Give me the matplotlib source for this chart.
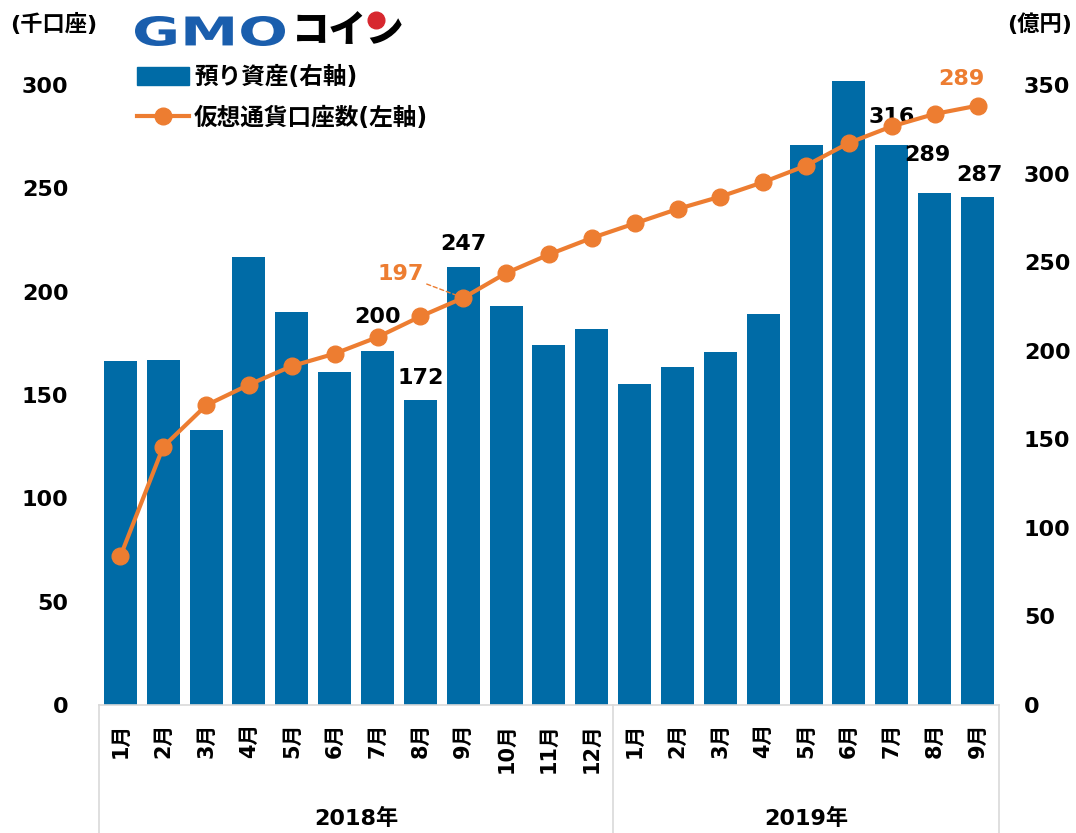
import matplotlib.pyplot as plt
from matplotlib.lines import Line2D
from matplotlib.textpath import TextPath
from matplotlib.patches import PathPatch
from matplotlib.font_manager import FontProperties
from matplotlib.transforms import Affine2D, IdentityTransform
import numpy as np

plt.rcParams['font.family'] = ['DejaVu Sans', 'Noto Sans CJK JP']
plt.rcParams['font.weight'] = 'bold'

months = ["1月", "2月", "3月", "4月", "5月", "6月", "7月", "8月", "9月", "10月", "11月", "12月",
          "1月", "2月", "3月", "4月", "5月", "6月", "7月", "8月", "9月"]
years = ["2018年", "2019年"]
year_len = [12, 9]
# 預り資産 (億円, right axis)
assets = [194, 195, 155, 253, 222, 188, 200, 172, 247, 225, 203, 212,
          181, 191, 199, 221, 316, 352, 316, 289, 287]
# 仮想通貨口座数 (千口座, left axis)
accounts = [72, 125, 145, 155, 164, 170, 178, 188, 197, 209, 218, 226,
            233, 240, 246, 253, 261, 272, 280, 286, 290]

BLUE = "#006BA6"
ORANGE = "#ED7D31"
GRAY = "#D9D9D9"

fig = plt.figure(figsize=(10.76, 8.33), dpi=100)
W, H = 1076, 833
ax_l = fig.add_axes([99 / W, 1 - 705 / H, 900 / W, 620 / H])
ax_r = ax_l.twinx()
ax_l.set_zorder(2)
ax_l.patch.set_visible(False)

x = np.arange(len(months))
ax_r.bar(x, assets, width=0.77, color=BLUE, clip_on=False, zorder=2)
ax_r.set_ylim(0, 350)
ax_r.set_yticks(range(0, 351, 50))

ax_l.plot(x, accounts, color=ORANGE, lw=3, marker="o", ms=12, clip_on=False, zorder=3)
ax_l.set_ylim(0, 300)
ax_l.set_yticks(range(0, 301, 50))
ax_l.set_xlim(-0.5, len(months) - 0.5)

for a in (ax_l, ax_r):
    for s in a.spines.values():
        s.set_visible(False)
    a.tick_params(length=0, labelsize=16)
    a.set_xticks([])
ax_l.tick_params(axis="y", pad=22)
ax_r.tick_params(axis="y", pad=18)

# category axis drawn by hand: baseline, group separators, labels
ax_l.axhline(0, color=GRAY, lw=1.2, clip_on=False)
trans = ax_l.get_xaxis_transform()
edges = np.concatenate([[0], np.cumsum(year_len)]) - 0.5
for e in edges:
    ax_l.plot([e, e], [0, -128 / 620], color=GRAY, lw=1.2, transform=trans, clip_on=False)
for i, m in enumerate(months):
    ax_l.text(i, -18 / 620, m, rotation=90, ha="center", va="top", fontsize=15,
              transform=trans, family=['DejaVu Sans', 'Noto Sans CJK JP'])
for j, yname in enumerate(years):
    mid = (edges[j] + edges[j + 1]) / 2
    ax_l.text(mid, -113 / 620, yname, ha="center", va="center", fontsize=16, transform=trans)

# data labels on bars
bar_labels = {6: (0, 17), 7: (0, 9), 8: (0, 10), 18: (0, 13), 19: (-5, 20), 20: (1, 8)}
for i, (dx, dy) in bar_labels.items():
    ax_r.annotate(str(assets[i]), (x[i], assets[i]), xytext=(dx, dy), textcoords="offset points",
                  ha="center", va="bottom", fontsize=16, color="black", zorder=5)

# data labels on line
ax_l.annotate(str(accounts[8]), (x[8], accounts[8]), xytext=(-45, 17), textcoords="offset points",
              ha="center", va="center", fontsize=16, color=ORANGE,
              arrowprops=dict(arrowstyle="-", color=ORANGE, lw=1, ls=(0, (3, 2)),
                              shrinkA=0, shrinkB=5))
ax_l.annotate("289", (x[20], accounts[20]), xytext=(-12, 12), textcoords="offset points",
              ha="center", va="bottom", fontsize=16, color=ORANGE)

# axis unit labels
fig.text(10 / W, 1 - 24 / H, "(千口座)", fontsize=16, ha="left", va="center")
fig.text(1072 / W, 1 - 24 / H, "(億円)", fontsize=16, ha="right", va="center")

# logo: "GMO" stretched wide, then コイン with its red dot
tp = TextPath((0, 0), "GMO", size=30, prop=FontProperties(family="DejaVu Sans", weight="bold"))
ext = tp.get_extents()
logo_tr = (Affine2D().translate(-ext.x0, -ext.y0)
           .scale(150 / ext.width, 30 / ext.height)
           .translate(135, H - 46))
fig.add_artist(PathPatch(tp, transform=logo_tr + IdentityTransform(), color="#1A5EAD", lw=0))
fig.text(292 / W, 1 - 31 / H, "コイン", fontsize=27, color="black", ha="left", va="center",
         family=['Noto Sans CJK JP'], weight="heavy")
fig.add_artist(Line2D([376 / W], [1 - 20 / H], marker="o", ms=12, color="#D7282F", lw=0,
                      zorder=10))

# legend
handles = [plt.Rectangle((0, 0), 1, 1, color=BLUE),
           Line2D([], [], color=ORANGE, lw=3, marker="o", ms=12)]
fig.legend(handles, ["預り資産(右軸)", "仮想通貨口座数(左軸)"], loc="upper left",
           bbox_to_anchor=(116 / W, 1 - 44 / H), frameon=False, fontsize=17,
           handlelength=2.2, handleheight=0.75, labelspacing=0.7, handletextpad=0.2)

fig.savefig("out.png", dpi=100)
